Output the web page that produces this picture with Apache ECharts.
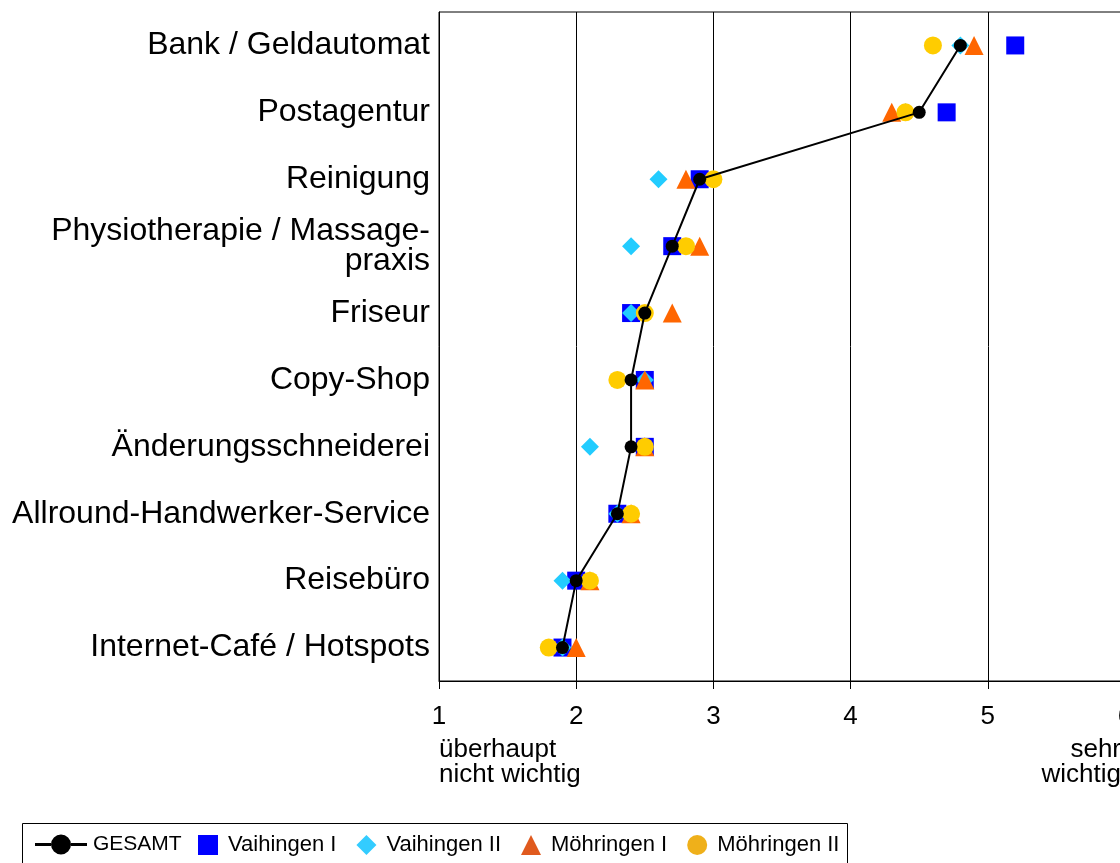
<!DOCTYPE html>
<html><head><meta charset="utf-8">
<script src="https://cdn.jsdelivr.net/npm/echarts@6/dist/echarts.min.js"></script>
<style>html,body{margin:0;padding:0;background:#fff;overflow:hidden}#c{width:1140px;height:863px}</style>
</head><body><div id="c"></div>
<script>
const categories = ["Bank / Geldautomat","Postagentur","Reinigung","Physiotherapie / Massage-\npraxis","Friseur","Copy-Shop","Änderungsschneiderei","Allround-Handwerker-Service","Reisebüro","Internet-Café / Hotspots"];
const gesamt      = [4.8, 4.5, 2.9, 2.7, 2.5, 2.4, 2.4, 2.3, 2.0, 1.9];
const vaihingen1  = [5.2, 4.7, 2.9, 2.7, 2.4, 2.5, 2.5, 2.3, 2.0, 1.9];
const vaihingen2  = [4.8, 4.4, 2.6, 2.4, 2.4, 2.5, 2.1, 2.3, 1.9, 1.9];
const moehringen1 = [4.9, 4.3, 2.8, 2.9, 2.7, 2.5, 2.5, 2.4, 2.1, 2.0];
const moehringen2 = [4.6, 4.4, 3.0, 2.8, 2.5, 2.3, 2.5, 2.4, 2.1, 1.8];
const xTicks = [1, 2, 3, 4, 5, 6];
const lowLabel = 'überhaupt\nnicht wichtig';
const highLabel = 'sehr\nwichtig';
const FONT = "'Liberation Sans', Arial, sans-serif";

const pairs = arr => arr.map((v, i) => [v, categories[i]]);
const gesamtIcon = 'path://M0,8.5L16,8.5L16,11.5L0,11.5Z M36,8.5L52,8.5L52,11.5L36,11.5Z M36,10A10,10 0 1,1 16,10A10,10 0 1,1 36,10Z';
const legendText = { fontSize: 21, color: '#000', fontFamily: FONT, padding: [0, 0, 0, 1] };

const chart = echarts.init(document.getElementById('c'));
chart.setOption({
  animation: false,
  textStyle: { fontFamily: FONT, color: '#000' },
  grid: { left: 439, right: 15, top: 12, bottom: 182, show: true, borderColor: '#000', borderWidth: 1 },
  xAxis: {
    type: 'value', min: xTicks[0], max: xTicks[xTicks.length - 1], interval: 1,
    axisLine: { show: true, lineStyle: { color: '#000', width: 1 } },
    axisTick: { show: true, length: 8, lineStyle: { color: '#000' } },
    splitLine: { show: true, lineStyle: { color: '#000', width: 1 } },
    axisLabel: { fontSize: 26, color: '#000', margin: 23, fontFamily: FONT }
  },
  yAxis: {
    type: 'category', data: categories, inverse: true,
    axisLine: { show: true, lineStyle: { color: '#000' } },
    axisTick: { show: false },
    splitLine: { show: false },
    axisLabel: { fontSize: 32, color: '#000', margin: 9, lineHeight: 30, padding: [4, 0, 0, 0], fontFamily: FONT }
  },
  legend: [
    { left: 35, top: 834, padding: 0, itemWidth: 52, itemHeight: 20, textStyle: legendText,
      data: [{ name: 'GESAMT', icon: gesamtIcon, itemStyle: { color: '#000' } }] },
    { left: 198, top: 834, padding: 0, itemWidth: 20, itemHeight: 20, itemGap: 20,
      textStyle: Object.assign({}, legendText, { fontSize: 22, padding: [0, 0, 0, 5] }),
      data: [
        { name: 'Vaihingen I', itemStyle: { color: '#0000ff' } },
        { name: 'Vaihingen II', itemStyle: { color: '#33ccff' } },
        { name: 'Möhringen I', itemStyle: { color: '#e05a1e' } },
        { name: 'Möhringen II', itemStyle: { color: '#efb01a' } }
      ] }
  ],
  series: [
    { name: 'Vaihingen I', type: 'scatter', symbol: 'rect', symbolSize: 18, z: 2,
      itemStyle: { color: '#0000ff', opacity: 1 }, data: pairs(vaihingen1) },
    { name: 'Vaihingen II', type: 'scatter', symbol: 'diamond', symbolSize: 18, z: 3,
      itemStyle: { color: '#22ccff', opacity: 1 }, data: pairs(vaihingen2) },
    { name: 'Möhringen I', type: 'scatter', symbol: 'triangle', symbolSize: 19, z: 4,
      itemStyle: { color: '#ff6600', opacity: 1 }, data: pairs(moehringen1) },
    { name: 'Möhringen II', type: 'scatter', symbol: 'circle', symbolSize: 18, z: 5,
      itemStyle: { color: '#ffcc00', opacity: 1 }, data: pairs(moehringen2) },
    { name: 'GESAMT', type: 'line', symbol: 'circle', symbolSize: 13, showSymbol: true, z: 6,
      lineStyle: { color: '#000', width: 2 }, itemStyle: { color: '#000' }, data: pairs(gesamt) }
  ],
  graphic: [
    { type: 'text', x: 439, y: 737, style: { text: lowLabel, font: '26px ' + FONT, fill: '#000', lineHeight: 25, align: 'left' } },
    { type: 'text', x: 1121, y: 737, style: { text: highLabel, font: '26px ' + FONT, fill: '#000', lineHeight: 25, align: 'right' } },
    { type: 'rect', shape: { x: 22.5, y: 823.5, width: 825, height: 80 }, style: { fill: 'none', stroke: '#000', lineWidth: 1 } }
  ]
});
</script></body></html>
